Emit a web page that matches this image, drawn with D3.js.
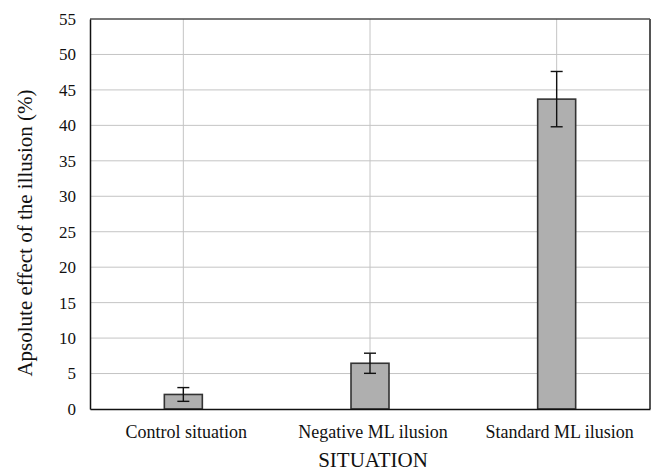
<!DOCTYPE html>
<html lang="en">
<head>
  <meta charset="UTF-8">
  <script src="https://d3js.org/d3.v7.min.js"></script>
  <style>
    body { margin: 0; background: #fff; }
    svg { display: block; }
    svg text { font-family: 'Liberation Serif', 'DejaVu Serif', serif; }
  </style>
</head>
<body>
  <div id="chart"></div>
  <script>
    // data
    const categories = ['Control situation', 'Negative ML ilusion', 'Standard ML ilusion'];
    const values = [2.05, 6.45, 43.7];
    const errors = [0.97, 1.42, 3.9];
    const yTicks = [0, 5, 10, 15, 20, 25, 30, 35, 40, 45, 50, 55];

    const width = 653, height = 471;
    const margin = { top: 19, right: 3, bottom: 62, left: 90 };
    const w = width - margin.left - margin.right;
    const h = height - margin.top - margin.bottom;

    const svg = d3.select('#chart').append('svg')
      .attr('width', width).attr('height', height);
    const g = svg.append('g').attr('transform', `translate(${margin.left},${margin.top})`);

    const x = d3.scaleBand().domain(categories).range([0, w]);
    const y = d3.scaleLinear().domain([0, 55]).range([h, 0]);

    // horizontal grid
    g.selectAll('line.hgrid')
      .data(yTicks.filter(t => t > 0))
      .enter().append('line')
      .attr('x1', 0).attr('x2', w)
      .attr('y1', d => y(d)).attr('y2', d => y(d))
      .attr('stroke', '#c4c4c4').attr('stroke-width', 1);

    // vertical grid at category centres
    g.selectAll('line.vgrid')
      .data(categories)
      .enter().append('line')
      .attr('x1', d => x(d) + x.bandwidth() / 2).attr('x2', d => x(d) + x.bandwidth() / 2)
      .attr('y1', 0).attr('y2', h)
      .attr('stroke', '#c4c4c4').attr('stroke-width', 1);

    // frame: top and right
    g.append('line').attr('x1', 0).attr('x2', w).attr('y1', 0).attr('y2', 0)
      .attr('stroke', '#111').attr('stroke-width', 1.2);
    g.append('line').attr('x1', w).attr('x2', w).attr('y1', 0).attr('y2', h)
      .attr('stroke', '#555').attr('stroke-width', 2);

    // bars
    const barW = 38;
    g.selectAll('rect.bar')
      .data(categories)
      .enter().append('rect')
      .attr('x', d => x(d) + x.bandwidth() / 2 - barW / 2)
      .attr('y', (d, i) => y(values[i]))
      .attr('width', barW)
      .attr('height', (d, i) => h - y(values[i]))
      .attr('fill', '#afafaf')
      .attr('stroke', '#333')
      .attr('stroke-width', 1.6);

    // error bars
    const eb = g.selectAll('g.err')
      .data(categories)
      .enter().append('g')
      .attr('transform', d => `translate(${x(d) + x.bandwidth() / 2},0)`)
      .attr('stroke', '#111').attr('stroke-width', 1.4);
    eb.append('line')
      .attr('y1', (d, i) => y(values[i] + errors[i]))
      .attr('y2', (d, i) => y(values[i] - errors[i]));
    eb.append('line').attr('x1', -6).attr('x2', 6)
      .attr('y1', (d, i) => y(values[i] + errors[i]))
      .attr('y2', (d, i) => y(values[i] + errors[i]));
    eb.append('line').attr('x1', -6).attr('x2', 6)
      .attr('y1', (d, i) => y(values[i] - errors[i]))
      .attr('y2', (d, i) => y(values[i] - errors[i]));

    // y axis
    const yAxis = g.append('g')
      .call(d3.axisLeft(y).tickValues(yTicks).tickSize(0).tickPadding(14))
      .attr('font-size', 17);
    yAxis.select('.domain').attr('stroke', '#111').attr('stroke-width', 1.5);
    yAxis.selectAll('text').attr('fill', '#111');

    // x axis
    const xAxis = g.append('g')
      .attr('transform', `translate(0,${h})`)
      .call(d3.axisBottom(x).tickSize(0).tickPadding(16))
      .attr('font-size', 18);
    xAxis.select('.domain').attr('stroke', '#111').attr('stroke-width', 1.5);
    xAxis.selectAll('text').attr('fill', '#111').attr('dx', 3);

    // axis titles
    svg.append('text')
      .attr('x', 373).attr('y', 467)
      .attr('text-anchor', 'middle')
      .attr('font-size', 21).attr('fill', '#111')
      .text('SITUATION');

    svg.append('text')
      .attr('transform', `translate(32,233) rotate(-90)`)
      .attr('text-anchor', 'middle')
      .attr('font-size', 21).attr('fill', '#111')
      .text('Apsolute effect of the illusion (%)');
  </script>
</body>
</html>
